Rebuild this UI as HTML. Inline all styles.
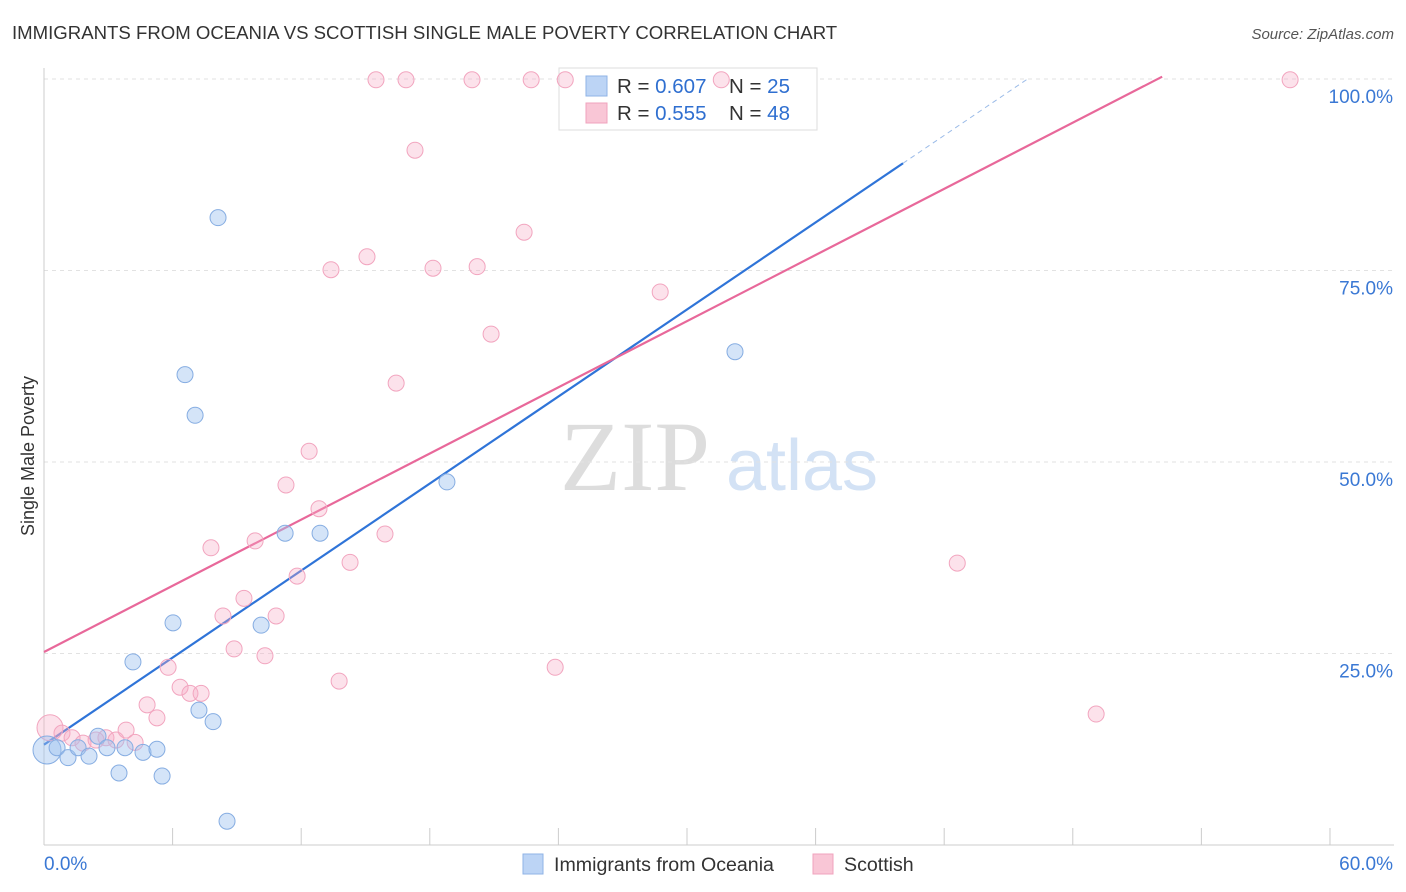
<!DOCTYPE html>
<html><head><meta charset="utf-8"><style>
body{margin:0;background:#fff;font-family:"Liberation Sans",sans-serif;}
svg{display:block}
</style></head><body>
<svg id="chart" width="1406" height="892">
<text x="12" y="39" font-size="18.6" fill="#333">IMMIGRANTS FROM OCEANIA VS SCOTTISH SINGLE MALE POVERTY CORRELATION CHART</text>
<text x="1394" y="39" font-size="15" fill="#555" text-anchor="end" font-style="italic">Source: ZipAtlas.com</text>
<text x="0" y="0" transform="translate(34,456) rotate(-90)" font-size="18" fill="#333" text-anchor="middle">Single Male Poverty</text>
<g><text x="635" y="490" font-size="100" font-family="Liberation Serif,serif" fill="#ddd" text-anchor="middle">ZIP</text><text x="802" y="490" font-size="72" fill="#d3e2f5" text-anchor="middle">atlas</text></g>
<g id="grid"></g><g id="axes"></g>
<g>
<rect x="559" y="68" width="258" height="62" fill="#fff" stroke="#ddd"/>
<rect x="586" y="76" width="21" height="20" fill="#bcd4f5" stroke="#8fb3e6"/>
<rect x="586" y="103" width="21" height="20" fill="#f9c6d6" stroke="#f0a3bd"/>
<text x="617" y="93" font-size="20.5" fill="#333">R = <tspan fill="#2f6fd0">0.607</tspan></text>
<text x="729" y="93" font-size="20.5" fill="#333">N = <tspan fill="#2f6fd0">25</tspan></text>
<text x="617" y="120" font-size="20.5" fill="#333">R = <tspan fill="#2f6fd0">0.555</tspan></text>
<text x="729" y="120" font-size="20.5" fill="#333">N = <tspan fill="#2f6fd0">48</tspan></text>
</g>
<g id="lines"></g><g id="pts"></g>
<g>
<rect x="523" y="854" width="20" height="20" fill="#bcd4f5" stroke="#8fb3e6"/>
<text x="554" y="871" font-size="19.6" fill="#333">Immigrants from Oceania</text>
<rect x="813" y="854" width="20" height="20" fill="#f9c6d6" stroke="#f0a3bd"/>
<text x="844" y="871" font-size="19.6" fill="#333">Scottish</text>
</g>
</svg>
<script>
const blueX=[0.14,0.61,1.12,1.59,2.1,2.52,2.94,3.5,3.78,4.15,4.62,5.27,5.51,6.02,6.58,7.05,7.23,7.89,8.12,8.54,10.13,11.25,12.88,18.8,32.24];
const blueY=[12.4,12.7,11.4,12.7,11.6,14.2,12.7,9.4,12.7,23.9,12.1,12.5,9.0,29.0,61.4,56.1,17.6,16.1,81.9,3.1,28.7,40.7,40.7,47.4,64.4];
const pinkX=[0.28,0.84,1.31,1.82,2.43,2.89,3.36,3.83,4.25,4.81,5.27,5.79,6.35,6.81,7.33,7.79,8.35,8.87,9.33,9.85,10.31,10.83,11.29,11.81,12.37,12.83,13.39,13.77,14.28,15.07,15.49,15.91,16.43,16.89,17.31,18.15,19.97,20.21,20.86,22.4,22.73,23.85,24.32,28.75,31.6,42.61,49.09,58.14];
const pinkY=[15.3,14.6,14.0,13.3,13.7,14.0,13.7,15.0,13.4,18.3,16.6,23.2,20.6,19.8,19.8,38.8,29.9,25.6,32.2,39.7,24.7,29.9,47.0,35.1,51.4,43.9,75.1,21.4,36.9,76.8,99.9,40.6,60.3,99.9,90.7,75.3,99.9,75.5,66.7,80.0,99.9,23.2,99.9,72.2,99.9,36.8,17.1,99.9];
const yTicks=[25,50,75,100];
const yTickLabels=["25.0%","50.0%","75.0%","100.0%"];
const xTickLabels=["0.0%","60.0%"];
const blueTrend=[13.1,89.0];const blueTrendX=[0,40.08,45.94];
const pinkTrend=[25.2,100.3];const pinkTrendX=[0,52.17];
const NS="http://www.w3.org/2000/svg";
const X=v=>44+v*21.433, Y=v=>845-v*7.66;
function mk(p,t,a){const e=document.createElementNS(NS,t);for(const k in a)e.setAttribute(k,a[k]);p.appendChild(e);return e;}
const g=document.getElementById('grid'),ax=document.getElementById('axes'),ln=document.getElementById('lines'),pt=document.getElementById('pts');
yTicks.forEach((t,i)=>{
 const l=mk(g,'line',{x1:44,x2:1394,y1:Y(t),y2:Y(t),stroke:'#e2e2e2','stroke-dasharray':'4,4'});
 
 
 const tx=mk(ax,'text',{x:1393,y:Y(t)+24,'font-size':19,fill:'#3a78d4','text-anchor':'end'});tx.textContent=yTickLabels[i];
 
 
});
const xa=mk(ax,'line',{x1:44,x2:1394,y1:845,y2:845,stroke:'#ccc'});


const ya=mk(ax,'line',{x1:44,x2:44,y1:68,y2:845,stroke:'#ccc'});


for(let i=0;i<=10;i++){const t=mk(ax,'line',{x1:X(i*6),x2:X(i*6),y1:828,y2:845,stroke:'#ccc'});
 
 }
const t0=mk(ax,'text',{x:44,y:870,'font-size':19,fill:'#3a78d4'});t0.textContent=xTickLabels[0];


const t1=mk(ax,'text',{x:1393,y:870,'font-size':19,fill:'#3a78d4','text-anchor':'end'});t1.textContent=xTickLabels[1];


pinkX.forEach((x,i)=>{const c=mk(pt,'circle',{cx:X(x),cy:Y(pinkY[i]),r:i==0?13:8,fill:'rgba(246,172,198,0.35)',stroke:'#f2a5bf','stroke-width':1});
 
 });
blueX.forEach((x,i)=>{const c=mk(pt,'circle',{cx:X(x),cy:Y(blueY[i]),r:i==0?14:8,fill:'rgba(160,195,240,0.45)',stroke:'#86ade2','stroke-width':1});
 
 });
const slope=(blueTrend[1]-blueTrend[0])/blueTrendX[1];
const bl=mk(ln,'line',{x1:X(0),y1:Y(blueTrend[0]),x2:X(blueTrendX[1]),y2:Y(blueTrend[1]),stroke:'#2f74d8','stroke-width':2.2});


const bd=mk(ln,'line',{x1:X(blueTrendX[1]),y1:Y(blueTrend[1]),x2:X(blueTrendX[2]),y2:Y(blueTrend[0]+slope*blueTrendX[2]),stroke:'#9bbbe8','stroke-width':1,'stroke-dasharray':'5,4'});


const pl=mk(ln,'line',{x1:X(0),y1:Y(pinkTrend[0]),x2:X(pinkTrendX[1]),y2:Y(pinkTrend[1]),stroke:'#e8689a','stroke-width':2.2});


</script>
</body></html>
